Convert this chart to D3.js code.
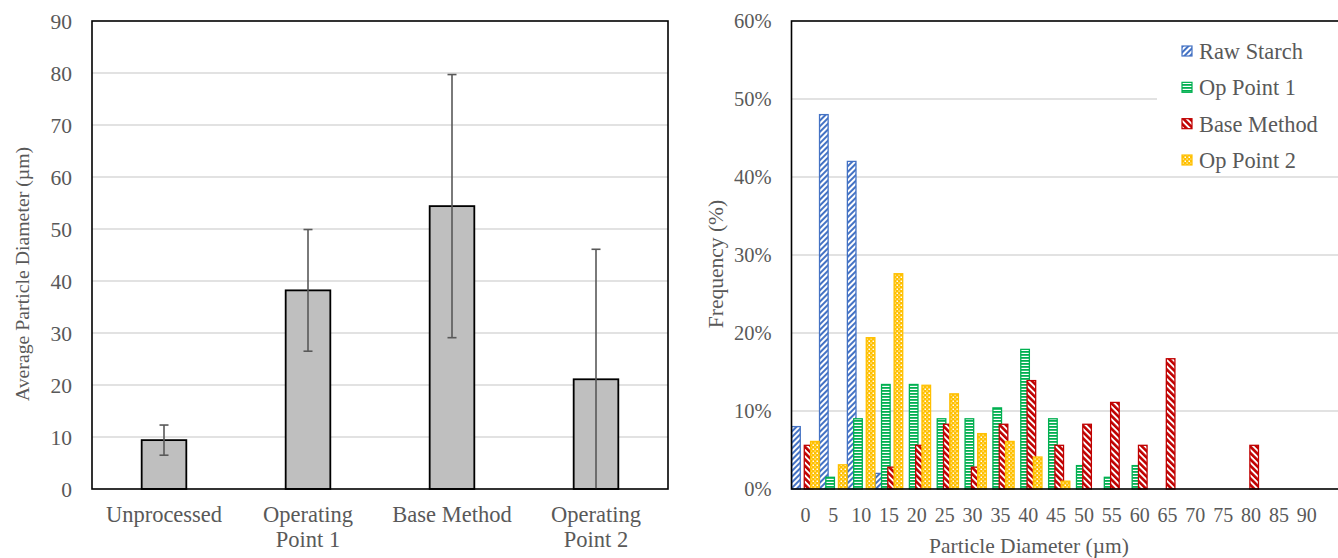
<!DOCTYPE html>
<html>
<head>
<meta charset="utf-8">
<script src="https://cdn.jsdelivr.net/npm/d3@7"></script>
<style>
  html, body { margin: 0; padding: 0; background: #fff; }
  svg { display: block; }
  text { font-family: "Liberation Serif", "Times New Roman", serif; fill: #595959; }
</style>
</head>
<body>
<svg id="chart" width="1338" height="558"></svg>
<script>
// ---- Left panel: average particle diameter per process ----
const processes = ["Unprocessed", "Operating\nPoint 1", "Base Method", "Operating\nPoint 2"];
const meanDiameter = [9.4, 38.2, 54.4, 21.1];
const diameterSD = [2.9, 11.7, 25.3, 25.0];
const diameterTicks = [0, 10, 20, 30, 40, 50, 60, 70, 80, 90];

// ---- Right panel: particle size distribution (% of particles per bin) ----
const diameterBins = ["0", "5", "10", "15", "20", "25", "30", "35", "40", "45",
                      "50", "55", "60", "65", "70", "75", "80", "85", "90"];
const seriesNames = ["Raw Starch", "Op Point 1", "Base Method", "Op Point 2"];
const rawStarch   = [8, 48, 42, 2, 0, 0, 0, 0, 0, 0, 0, 0, 0, 0, 0, 0, 0, 0, 0];
const opPoint1    = [0, 1.5, 9.0, 13.4, 13.4, 9.0, 9.0, 10.4, 17.9, 9.0, 3.0, 1.5, 3.0, 0, 0, 0, 0, 0, 0];
const baseMethod  = [5.6, 0, 0, 2.8, 5.6, 8.3, 2.8, 8.3, 13.9, 5.6, 8.3, 11.1, 5.6, 16.7, 0, 0, 5.6, 0, 0];
const opPoint2    = [6.1, 3.1, 19.4, 27.6, 13.3, 12.2, 7.1, 6.1, 4.1, 1.0, 0, 0, 0, 0, 0, 0, 0, 0, 0];
const freqTicks = [0, 10, 20, 30, 40, 50, 60];

const svg = d3.select("#chart");
const gridColor = "#d9d9d9";
const textColor = "#595959";

// ================= Left panel =================
const left = { x0: 92, x1: 668, y0: 21, y1: 489 };
const yL = d3.scaleLinear().domain([0, 90]).range([left.y1, left.y0]);
const xL = d3.scaleBand().domain(processes).range([left.x0, left.x1]).padding(0);
const barW = xL.bandwidth() * 0.31;

const gL = svg.append("g");

// gridlines
gL.append("g").selectAll("line").data(diameterTicks.filter(d => d > 0 && d < 90)).join("line")
  .attr("x1", left.x0).attr("x2", left.x1)
  .attr("y1", d => yL(d)).attr("y2", d => yL(d))
  .attr("stroke", gridColor).attr("stroke-width", 1.3);

// y tick labels
gL.append("g").selectAll("text").data(diameterTicks).join("text")
  .attr("x", left.x0 - 20).attr("y", d => yL(d)).attr("dy", "0.35em")
  .attr("text-anchor", "end").attr("font-size", 21.5)
  .text(d => d);

// bars
gL.append("g").selectAll("rect").data(processes).join("rect")
  .attr("x", (d) => xL(d) + xL.bandwidth() / 2 - barW / 2)
  .attr("y", (d, i) => yL(meanDiameter[i]))
  .attr("width", barW)
  .attr("height", (d, i) => yL(0) - yL(meanDiameter[i]))
  .attr("fill", "#bfbfbf").attr("stroke", "#000").attr("stroke-width", 1.8);

// error bars (clipped to the plot area)
const eb = gL.append("g").attr("stroke", "#595959").attr("stroke-width", 1.6);
processes.forEach((p, i) => {
  const cx = xL(p) + xL.bandwidth() / 2;
  const lo = meanDiameter[i] - diameterSD[i];
  const hi = meanDiameter[i] + diameterSD[i];
  const yLo = yL(Math.max(lo, 0));
  const yHi = yL(Math.min(hi, 90));
  eb.append("line").attr("x1", cx).attr("x2", cx).attr("y1", yLo).attr("y2", yHi);
  if (hi <= 90) eb.append("line").attr("x1", cx - 4.5).attr("x2", cx + 4.5).attr("y1", yHi).attr("y2", yHi);
  if (lo >= 0) eb.append("line").attr("x1", cx - 4.5).attr("x2", cx + 4.5).attr("y1", yLo).attr("y2", yLo);
});

// plot border
gL.append("rect").attr("x", left.x0).attr("y", left.y0)
  .attr("width", left.x1 - left.x0).attr("height", left.y1 - left.y0)
  .attr("fill", "none").attr("stroke", "#000").attr("stroke-width", 1.6);

// category labels (two-line where needed)
gL.append("g").selectAll("text").data(processes).join("text")
  .attr("x", d => xL(d) + xL.bandwidth() / 2).attr("y", 522)
  .attr("text-anchor", "middle").attr("font-size", 22.5)
  .each(function (d) {
    const lines = d.split("\n");
    d3.select(this).selectAll("tspan").data(lines).join("tspan")
      .attr("x", xL(d) + xL.bandwidth() / 2)
      .attr("dy", (l, j) => j === 0 ? 0 : 25)
      .text(l => l);
  });

// y title
gL.append("text")
  .attr("transform", "translate(29,274) rotate(-90)")
  .attr("text-anchor", "middle").attr("font-size", 19.8)
  .text("Average Particle Diameter (µm)");

// ================= Right panel =================
const right = { x0: 791.5, y0: 21, y1: 489, step: 27.85 };
const yR = d3.scaleLinear().domain([0, 60]).range([right.y1, right.y0]);
const xR = d3.scaleBand().domain(diameterBins)
  .range([right.x0, right.x0 + diameterBins.length * right.step]).padding(0);
const xS = d3.scalePoint().domain(seriesNames).range([-9.45, 9.45]);
const binBarW = 8.6;

const colors = ["#4472C4", "#00B050", "#C00000", "#FFC000"];
const patternIds = ["pat-raw", "pat-op1", "pat-base", "pat-op2"];
const defs = svg.append("defs");

// Raw Starch: upward diagonal stripes
const p0 = defs.append("pattern").attr("id", patternIds[0]).attr("patternUnits", "userSpaceOnUse")
  .attr("width", 4).attr("height", 4).attr("patternTransform", "rotate(45)");
p0.append("rect").attr("width", 4).attr("height", 4).attr("fill", "#fff");
p0.append("rect").attr("width", 2).attr("height", 4).attr("fill", colors[0]);

// Op Point 1: horizontal stripes
const p1 = defs.append("pattern").attr("id", patternIds[1]).attr("patternUnits", "userSpaceOnUse")
  .attr("width", 4).attr("height", 3);
p1.append("rect").attr("width", 4).attr("height", 3).attr("fill", "#fff");
p1.append("rect").attr("width", 4).attr("height", 1.8).attr("fill", colors[1]);

// Base Method: downward diagonal stripes
const p2 = defs.append("pattern").attr("id", patternIds[2]).attr("patternUnits", "userSpaceOnUse")
  .attr("width", 4.5).attr("height", 4.5).attr("patternTransform", "rotate(-45)");
p2.append("rect").attr("width", 4.5).attr("height", 4.5).attr("fill", "#fff");
p2.append("rect").attr("width", 2.6).attr("height", 4.5).attr("fill", colors[2]);

// Op Point 2: dotted grid
const p3 = defs.append("pattern").attr("id", patternIds[3]).attr("patternUnits", "userSpaceOnUse")
  .attr("width", 4).attr("height", 4);
p3.append("rect").attr("width", 4).attr("height", 4).attr("fill", colors[3]);
p3.append("rect").attr("x", 0.5).attr("y", 0.5).attr("width", 1.5).attr("height", 1.5).attr("fill", "#fff");
p3.append("rect").attr("x", 2.5).attr("y", 2.5).attr("width", 1.2).attr("height", 1.2).attr("fill", "#fff8e0");

const gR = svg.append("g");

// gridlines
gR.append("g").selectAll("line").data(freqTicks.filter(d => d > 0 && d < 60)).join("line")
  .attr("x1", right.x0).attr("x2", 1338)
  .attr("y1", d => yR(d)).attr("y2", d => yR(d))
  .attr("stroke", gridColor).attr("stroke-width", 1.3);

// y tick labels
gR.append("g").selectAll("text").data(freqTicks).join("text")
  .attr("x", right.x0 - 20).attr("y", d => yR(d)).attr("dy", "0.35em")
  .attr("text-anchor", "end").attr("font-size", 20.5)
  .text(d => d + "%");

// bars, series drawn in order so later series overlap earlier ones
const seriesValues = [rawStarch, opPoint1, baseMethod, opPoint2];
seriesNames.forEach((name, si) => {
  const vals = seriesValues[si];
  gR.append("g").selectAll("rect").data(diameterBins.map((b, i) => ({ b, v: vals[i] })).filter(d => d.v > 0))
    .join("rect")
    .attr("x", d => xR(d.b) + xR.bandwidth() / 2 + xS(name) - binBarW / 2)
    .attr("y", d => yR(d.v))
    .attr("width", binBarW)
    .attr("height", d => yR(0) - yR(d.v))
    .attr("fill", `url(#${patternIds[si]})`)
    .attr("stroke", colors[si]).attr("stroke-width", 1.3);
});

// plot border (extends past the right edge)
gR.append("rect").attr("x", right.x0).attr("y", right.y0)
  .attr("width", 700).attr("height", right.y1 - right.y0)
  .attr("fill", "none").attr("stroke", "#000").attr("stroke-width", 1.6);

// x tick labels
gR.append("g").selectAll("text").data(diameterBins).join("text")
  .attr("x", d => xR(d) + xR.bandwidth() / 2).attr("y", 522)
  .attr("text-anchor", "middle").attr("font-size", 20)
  .text(d => d);

// axis titles
gR.append("text").attr("transform", "translate(723,264) rotate(-90)")
  .attr("text-anchor", "middle").attr("font-size", 21.5).text("Frequency (%)");
gR.append("text").attr("x", 1029).attr("y", 553)
  .attr("text-anchor", "middle").attr("font-size", 21.5).text("Particle Diameter (µm)");

// legend
const lg = gR.append("g");
lg.append("rect").attr("x", 1157).attr("y", 28).attr("width", 200).attr("height", 146).attr("fill", "#fff");
const legendY = d3.scalePoint().domain(seriesNames).range([51, 160]);
seriesNames.forEach((name, si) => {
  const y = legendY(name);
  lg.append("rect").attr("x", 1182).attr("y", y - 5).attr("width", 10).attr("height", 10)
    .attr("fill", `url(#${patternIds[si]})`).attr("stroke", colors[si]).attr("stroke-width", 1.2);
  lg.append("text").attr("x", 1199).attr("y", y).attr("dy", "0.35em")
    .attr("font-size", 22.4).text(name);
});
</script>
</body>
</html>
